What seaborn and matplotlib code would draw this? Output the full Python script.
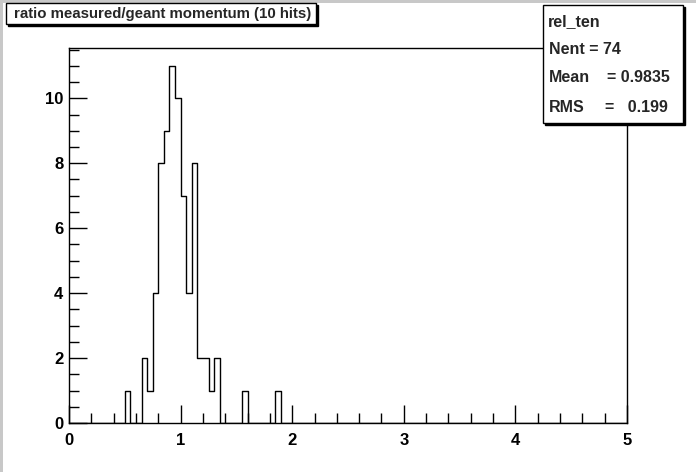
import matplotlib
matplotlib.use("Agg")
import matplotlib.pyplot as plt
import pandas as pd
import seaborn as sns
from matplotlib.patches import Rectangle
from matplotlib.ticker import MultipleLocator

# bin lower edges (width 0.05) and entries
bin_lo = [0.50, 0.65, 0.70, 0.75, 0.80, 0.85, 0.90, 0.95, 1.00, 1.05,
          1.10, 1.15, 1.20, 1.25, 1.30, 1.55, 1.85]
counts = [1, 2, 1, 4, 8, 9, 11, 10, 7, 4, 8, 2, 2, 1, 2, 1, 1]
bin_width = 0.05
n_bins = 100
title = "ratio measured/geant momentum (10 hits)"
stats_name = "rel_ten"
stats_labels = ["Nent = 74", "Mean", "RMS"]
stats_values = ["", "= 0.9835", "=   0.199"]

sns.set_style("white")
plt.rcParams['font.family'] = ['Liberation Sans', 'DejaVu Sans']
plt.rcParams['font.weight'] = 'bold'

W, H = 696, 472
fig = plt.figure(figsize=(W / 100, H / 100), dpi=100)
fig.patch.set_facecolor('white')


def px(x0, y0, x1, y1):
    # pixel box (top-left origin) -> figure fraction rect
    return [x0 / W, 1 - y1 / H, (x1 - x0) / W, (y1 - y0) / H]


ax = fig.add_axes(px(69, 48, 627, 423))
df = pd.DataFrame({'x': [b + bin_width / 2 for b in bin_lo], 'n': counts})
sns.histplot(data=df, x='x', weights='n', bins=n_bins, binrange=(0, 5),
             element='step', fill=False, color='black', linewidth=1, ax=ax)

ax.set_xlim(0, 5)
ax.set_ylim(0, 11.55)
ax.set_xlabel('')
ax.set_ylabel('')
ax.xaxis.set_major_locator(MultipleLocator(1))
ax.xaxis.set_minor_locator(MultipleLocator(0.2))
ax.yaxis.set_major_locator(MultipleLocator(2))
ax.yaxis.set_minor_locator(MultipleLocator(0.5))
ax.tick_params(which='both', direction='in', top=False, right=False,
               bottom=True, left=True, colors='black', labelsize=12)
ax.tick_params(which='major', length=13, width=1)
ax.tick_params(which='minor', length=7, width=1)
ax.tick_params(axis='x', pad=7)
ax.tick_params(axis='y', pad=4)
for lab in ax.get_xticklabels() + ax.get_yticklabels():
    lab.set_fontweight('bold')
for s in ax.spines.values():
    s.set_visible(True)
    s.set_color('black')
    s.set_linewidth(1)

# canvas border (grey edge left and top)
fig.patches.append(Rectangle((0, 0), 3 / W, 1, transform=fig.transFigure,
                             facecolor='#c8c8c8', edgecolor='none', zorder=0))
fig.patches.append(Rectangle((0, 1 - 3 / H), 1, 3 / H, transform=fig.transFigure,
                             facecolor='#c8c8c8', edgecolor='none', zorder=0))


def shadow_box(x0, y0, x1, y1):
    r = px(x0 + 2, y0 + 2, x1 + 2, y1 + 2)
    fig.patches.append(Rectangle((r[0], r[1]), r[2], r[3], transform=fig.transFigure,
                                 facecolor='black', edgecolor='black', zorder=3))
    r = px(x0, y0, x1, y1)
    fig.patches.append(Rectangle((r[0], r[1]), r[2], r[3], transform=fig.transFigure,
                                 facecolor='white', edgecolor='black', lw=1, zorder=4))


# title box
shadow_box(6, 3, 316, 24)
fig.text(163 / W, 1 - 14 / H, title, ha='center', va='center', fontsize=10.8,
         fontweight='bold', zorder=5)

# stats box
shadow_box(543, 5, 683, 123)
fig.text(548 / W, 1 - 22 / H, stats_name, ha='left', va='center', fontsize=11.5,
         fontweight='bold', zorder=5)
for lab, val, yy, xr in zip(stats_labels, stats_values, [49, 78, 107], [614, 670, 668]):
    fig.text(549 / W, 1 - yy / H, lab, ha='left', va='center', fontsize=11.5,
             fontweight='bold', zorder=5)
    if val:
        fig.text(xr / W, 1 - yy / H, val, ha='right', va='center', fontsize=11.5,
                 fontweight='bold', zorder=5)

fig.savefig('out.png', dpi=100)
